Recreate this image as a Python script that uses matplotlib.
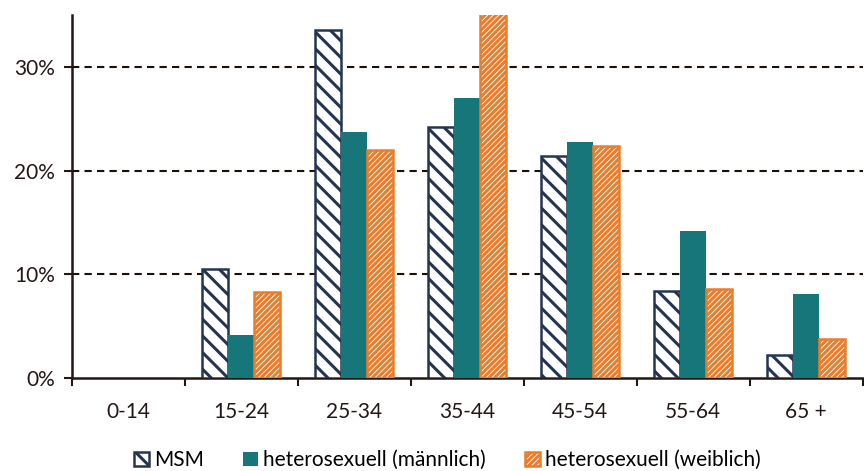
import matplotlib.pyplot as plt
import matplotlib
from matplotlib.patches import Patch
import numpy as np

matplotlib.rcParams['font.family'] = ['Lato', 'DejaVu Sans']
matplotlib.rcParams['hatch.linewidth'] = 2.2

categories = ['0-14', '15-24', '25-34', '35-44', '45-54', '55-64', '65 +']
msm = [0, 10.5, 33.6, 24.2, 21.4, 8.4, 2.2]
hetero_m = [0, 4.15, 23.7, 27.0, 22.8, 14.2, 8.1]
hetero_w = [0, 8.3, 22.0, 35.2, 22.4, 8.6, 3.8]

navy = '#253550'
teal = '#17767A'
orange = '#E87D2B'

fig = plt.figure(figsize=(8.64, 4.71), dpi=100)
ax = fig.add_axes([0.0833, 0.197, 0.915, 0.771])

x = np.arange(len(categories))
w = 0.23

# Balken, nur wo Werte > 0
for i in x:
    if msm[i] > 0:
        ax.bar(i - w, msm[i], w, facecolor='white', edgecolor=navy, hatch='\\\\', linewidth=1.8, zorder=3)
    if hetero_m[i] > 0:
        ax.bar(i, hetero_m[i], w, color=teal, zorder=3)
    if hetero_w[i] > 0:
        ax.bar(i + w, hetero_w[i], w, facecolor='white', edgecolor=orange, hatch='//////', linewidth=1.8, zorder=3)

ax.set_xlim(-0.5, len(categories) - 0.5)
ax.set_ylim(0, 35)
ax.set_yticks([0, 10, 20, 30])
ax.set_yticklabels(['0%', '10%', '20%', '30%'], fontsize=15, color='#231815')
for yv in [10, 20, 30]:
    ax.axhline(yv, color='#1a1008', linestyle=(0, (3.5, 2.5)), linewidth=1.5, zorder=1)

ax.set_xticks(x)
ax.set_xticklabels(categories, fontsize=15, color='#231815')
ax.set_xticks(np.arange(-0.5, len(categories), 1.0), minor=True)
ax.tick_params(axis='x', which='major', length=0, pad=17)
ax.tick_params(axis='x', which='minor', length=6, width=1.5, color='#231815')
ax.tick_params(axis='y', length=6, width=1.5, color='#231815', pad=6)

for s in ['top', 'right']:
    ax.spines[s].set_visible(False)
ax.spines['left'].set_linewidth(1.8)
ax.spines['bottom'].set_linewidth(1.8)
ax.spines['left'].set_color('#231815')
ax.spines['bottom'].set_color('#231815')

handles = [
    Patch(facecolor='white', edgecolor=navy, hatch='\\\\', linewidth=1.8, label='MSM'),
    Patch(facecolor=teal, label='heterosexuell (männlich)'),
    Patch(facecolor='white', edgecolor=orange, hatch='//////', linewidth=1.8, label='heterosexuell (weiblich)'),
]
fig.legend(handles=handles, loc='lower center', bbox_to_anchor=(0.518, -0.038), ncol=3, frameon=False,
           fontsize=15, handlelength=0.7, handleheight=0.7, handletextpad=0.25, columnspacing=1.9)

plt.savefig('out.png', dpi=100)
